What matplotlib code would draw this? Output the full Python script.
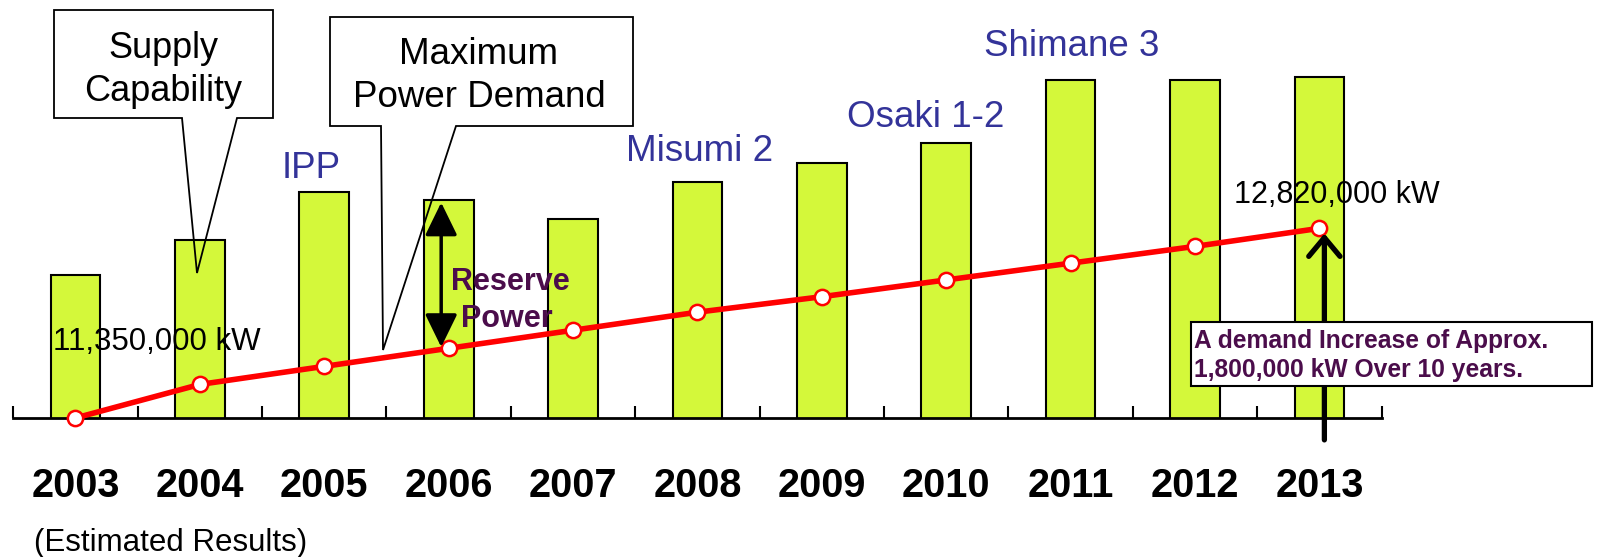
import matplotlib
matplotlib.use("Agg")
import matplotlib.pyplot as plt
from matplotlib.patches import Polygon, Rectangle

# values in units of 10,000 kW
years = ["2003", "2004", "2005", "2006", "2007", "2008", "2009", "2010", "2011", "2012", "2013"]
supply = [1246, 1273, 1310, 1304, 1289, 1318, 1333, 1348, 1397, 1397, 1399]
demand = [1135, 1161, 1175, 1189, 1203, 1217, 1229, 1242, 1255, 1268, 1282]
plants = ["IPP", "Misumi 2", "Osaki 1-2", "Shimane 3"]

plt.rcParams["font.family"] = ["Liberation Sans", "DejaVu Sans"]

blue = "#333399"
purple = "#4b0d4b"

fig = plt.figure(figsize=(16, 5.57), dpi=100)
ax = fig.add_axes([0.0083, 0.2496, 0.8552, 0.7504])

x = list(range(len(years)))
ax.bar(x, supply, width=0.4, color="#d4f83a", edgecolor="black", linewidth=1.5, zorder=2)
ax.plot(x, demand, color="red", lw=4, marker="o", ms=11, mfc="white", mec="red",
        mew=1.8, clip_on=False, zorder=4)

ax.set_xlim(-0.5, 10.5)
ax.set_ylim(1135, 1459)
for s in ["top", "left", "right"]:
    ax.spines[s].set_visible(False)
ax.spines["bottom"].set_linewidth(2)
ax.set_yticks([])
ax.set_xticks([i - 0.5 for i in range(len(years) + 1)])
ax.set_xticklabels([])
ax.set_xticks(x, minor=True)
ax.set_xticklabels(years, minor=True, fontsize=28.5, fontweight="bold")
ax.tick_params(axis="x", which="major", direction="in", length=9, width=1.5)
ax.tick_params(axis="x", which="minor", length=0, pad=35)

# reserve power arrow
ax.annotate("", xy=(2.94, demand[3] + 1), xytext=(2.94, supply[3] - 2),
            arrowprops=dict(arrowstyle="<|-|>,head_length=0.45,head_width=0.22",
                            color="black", lw=2.5, mutation_scale=45,
                            shrinkA=0, shrinkB=0), zorder=5)
# demand increase arrow
ax.annotate("", xy=(10.04, demand[10] - 4), xytext=(10.04, 1118),
            arrowprops=dict(arrowstyle="->,head_length=0.3,head_width=0.25",
                            color="black", lw=3.8, mutation_scale=45,
                            shrinkA=0, shrinkB=0),
            annotation_clip=False, zorder=5)

# overlay in pixel coordinates for callouts and labels
ov = fig.add_axes([0, 0, 1, 1])
ov.set_xlim(0, 1600)
ov.set_ylim(557, 0)
ov.axis("off")

call1 = [(54, 10), (273, 10), (273, 118), (237, 118), (197, 273), (182, 118), (54, 118)]
call2 = [(330, 17), (633, 17), (633, 126), (456, 126), (383, 350), (381, 126), (330, 126)]
for pts in [call1, call2]:
    ov.add_patch(Polygon(pts, closed=True, fill=False, edgecolor="black", lw=1.3))

ov.text(163, 58, "Supply", ha="center", va="baseline", fontsize=26)
ov.text(163, 101, "Capability", ha="center", va="baseline", fontsize=26)
ov.text(479, 64, "Maximum", ha="center", va="baseline", fontsize=26.5)
ov.text(479, 107, "Power Demand", ha="center", va="baseline", fontsize=26.5)

for name, px, py in zip(plants, [311, 700, 926, 1072], [178, 161, 127, 56]):
    ov.text(px, py, name, ha="center", va="baseline", fontsize=26.5, color=blue)

ov.text(157, 350, "11,350,000 kW", ha="center", va="baseline", fontsize=22.5)
ov.text(1337, 203, "12,820,000 kW", ha="center", va="baseline", fontsize=22)

ov.text(510, 290, "Reserve", ha="center", va="baseline", fontsize=22,
        fontweight="bold", color=purple)
ov.text(507, 327, "Power", ha="center", va="baseline", fontsize=22,
        fontweight="bold", color=purple)

ov.add_patch(Rectangle((1191, 322), 401, 64, facecolor="white", edgecolor="black", lw=1.5))
ov.text(1194, 348, "A demand Increase of Approx.", ha="left", va="baseline",
        fontsize=17.7, fontweight="bold", color=purple)
ov.text(1194, 377, "1,800,000 kW Over 10 years.", ha="left", va="baseline",
        fontsize=17.7, fontweight="bold", color=purple)

ov.text(34, 551, "(Estimated Results)", ha="left", va="baseline", fontsize=22.5)

fig.savefig("out.png", dpi=100)
